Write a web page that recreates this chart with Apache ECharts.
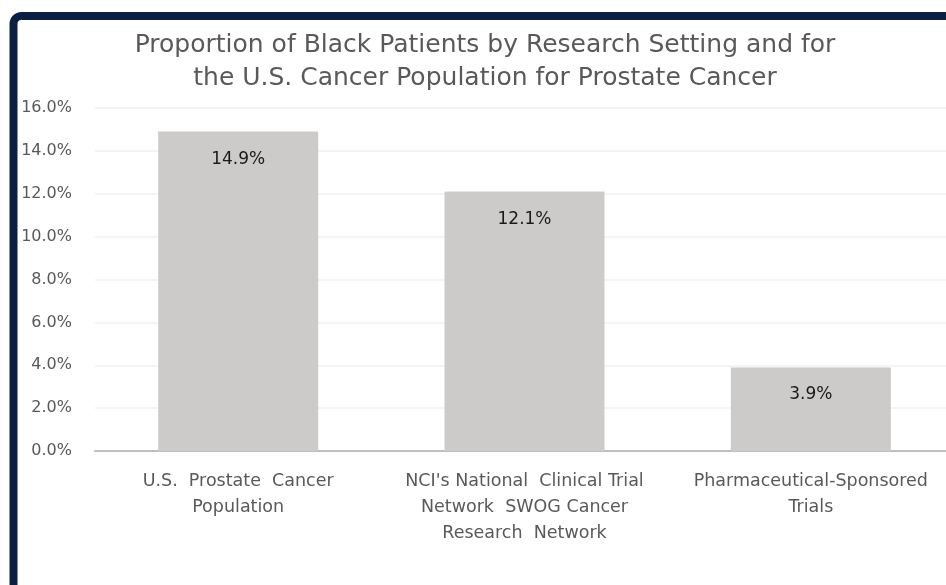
<!DOCTYPE html>
<html>
<head>
<meta charset="utf-8">
<script src="https://cdn.jsdelivr.net/npm/echarts@6/dist/echarts.min.js"></script>
<style>
html,body{margin:0;padding:0;background:#fff;overflow:hidden;}
#chart{width:946px;height:585px;}
</style>
</head>
<body>
<div id="chart"></div>
<script>
const titleText = "Proportion of Black Patients by Research Setting and for\nthe U.S. Cancer Population for Prostate Cancer";
const categories = [
  "U.S.  Prostate  Cancer\nPopulation",
  "NCI's National  Clinical Trial\nNetwork  SWOG Cancer\nResearch  Network",
  "Pharmaceutical-Sponsored\nTrials"
];
const values = [14.9, 12.1, 3.9];
const yMin = 0, yMax = 16, yStep = 2;

const FONT = "DejaVu Sans";
const chart = echarts.init(document.getElementById('chart'));
chart.setOption({
  animation: false,
  backgroundColor: '#ffffff',
  title: {
    text: titleText,
    left: 485,
    top: 29,
    padding: 0,
    textAlign: 'center',
    textStyle: {fontFamily: FONT, fontSize: 25, fontWeight: 'normal', color: '#595959', lineHeight: 33}
  },
  graphic: [{
    type: 'rect',
    shape: {x: 13.5, y: 16, width: 1100, height: 800, r: 8},
    style: {fill: 'none', stroke: '#0b1f45', lineWidth: 8},
    silent: true
  }],
  grid: {left: 95, top: 108, right: -8, height: 343, containLabel: false, outerBoundsMode: 'none'},
  xAxis: {
    type: 'category',
    data: categories,
    axisLine: {lineStyle: {color: '#bfbfbf', width: 2}},
    axisTick: {show: false},
    axisLabel: {fontFamily: FONT, fontSize: 17.5, color: '#595959', lineHeight: 26, margin: 17, interval: 0}
  },
  yAxis: {
    type: 'value',
    min: yMin, max: yMax, interval: yStep,
    axisLine: {show: false},
    axisTick: {show: false},
    splitLine: {lineStyle: {color: '#f0f0f0', width: 1.5}},
    axisLabel: {fontFamily: FONT, fontSize: 16, color: '#595959', margin: 23,
      formatter: v => v.toFixed(1) + '%'}
  },
  series: [{
    type: 'bar',
    data: values,
    barWidth: 160,
    itemStyle: {color: '#cccbca'},
    label: {show: true, position: 'insideTop', distance: 19, fontFamily: FONT, fontSize: 17, color: '#1a1a1a',
      formatter: p => p.value.toFixed(1) + '%'}
  }]
});
</script>
</body>
</html>
